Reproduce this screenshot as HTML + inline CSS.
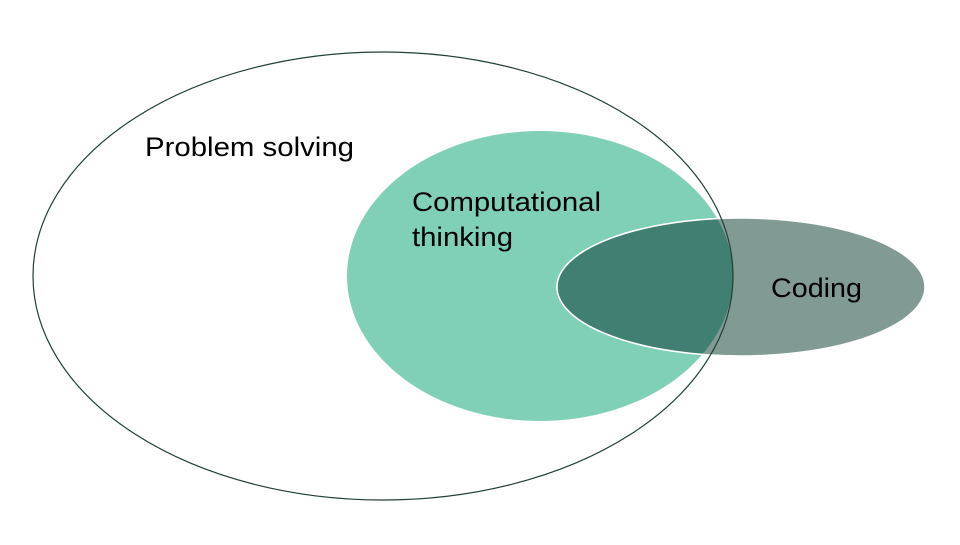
<!DOCTYPE html>
<html><head><meta charset="utf-8"><style>html,body{margin:0;padding:0;background:#fff}</style></head>
<body>
<svg width="960" height="540" viewBox="0 0 960 540" xmlns="http://www.w3.org/2000/svg">
<defs><clipPath id="g"><ellipse cx="540" cy="276" rx="193" ry="145"/></clipPath></defs>
<ellipse cx="540" cy="276" rx="193" ry="145" fill="#80cfb7"/>
<ellipse cx="741" cy="287" rx="184" ry="69" fill="#819a94" stroke="#fff" stroke-width="1.5"/>
<ellipse cx="741" cy="287" rx="184" ry="69" fill="#417f73" clip-path="url(#g)"/>
<ellipse cx="741" cy="287" rx="184" ry="69" fill="none" stroke="#fff" stroke-width="1.5" clip-path="url(#g)"/>
<ellipse cx="383" cy="276" rx="350" ry="224" fill="none" stroke="#1e4036" stroke-width="1.2"/>
<g font-family="Liberation Sans, sans-serif" font-size="27" fill="#000">
<text x="145" y="156" textLength="209" lengthAdjust="spacingAndGlyphs">Problem solving</text>
<text x="412" y="211" textLength="189" lengthAdjust="spacingAndGlyphs">Computational</text>
<text x="412" y="246" textLength="101" lengthAdjust="spacingAndGlyphs">thinking</text>
<text x="771" y="297" textLength="91" lengthAdjust="spacingAndGlyphs">Coding</text>
</g>
</svg>
</body></html>
